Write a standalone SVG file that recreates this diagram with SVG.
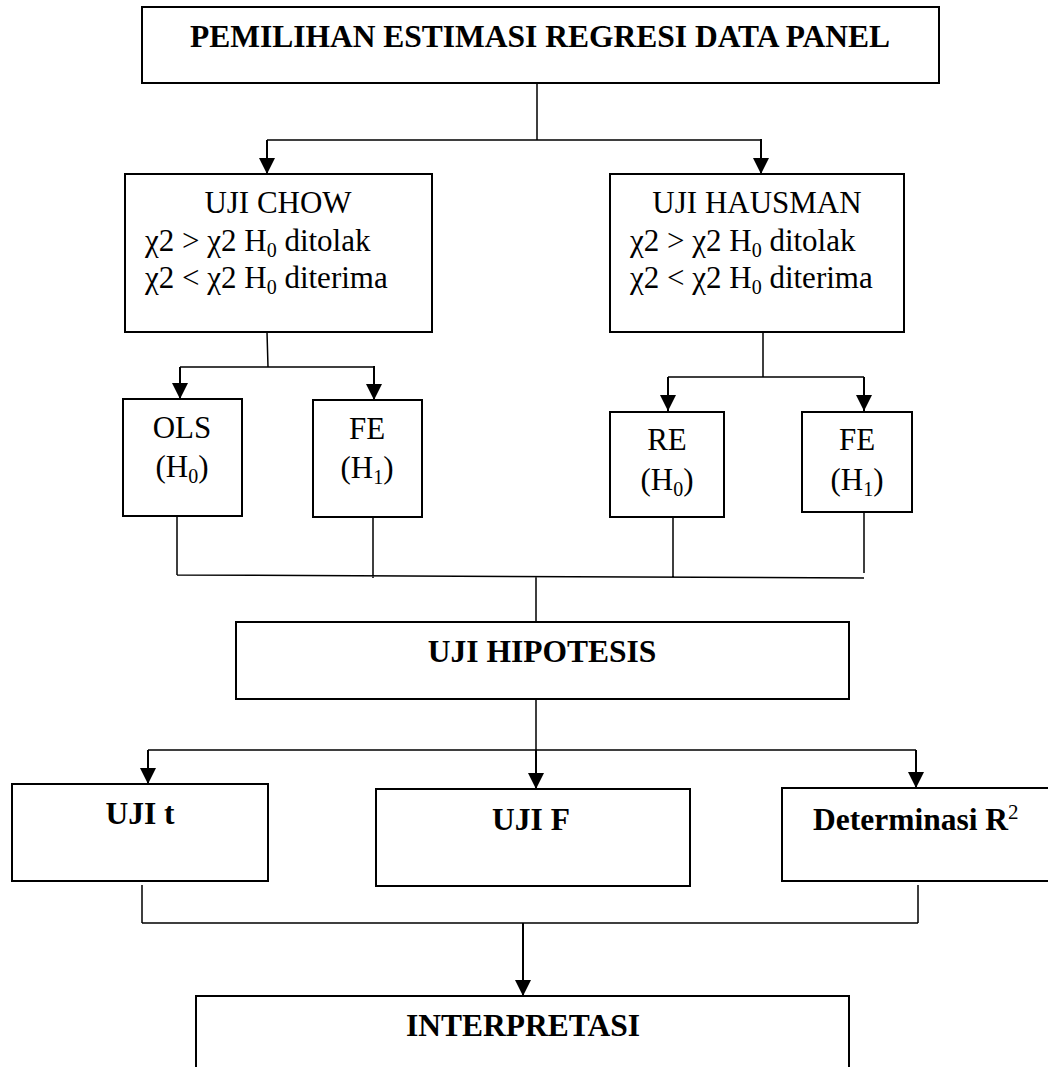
<svg xmlns="http://www.w3.org/2000/svg" width="1048" height="1067" viewBox="0 0 1048 1067">
<defs>
<marker id="ah" markerUnits="userSpaceOnUse" markerWidth="16" markerHeight="16" refX="16" refY="8" orient="auto" viewBox="0 0 16 16">
<path d="M0,0 L16,8 L0,16 z" fill="#000"/>
</marker>
<style>
.box{fill:#fff;stroke:#000;stroke-width:2}
.t{font-family:"Liberation Serif","Times New Roman",serif;font-size:31px;fill:#000}
.b{font-family:"Liberation Serif","Times New Roman",serif;font-size:31.5px;font-weight:bold;fill:#000}
.c{text-anchor:middle}
.ln{fill:none;stroke:#000;stroke-width:1.5}
.ar{fill:none;stroke:#000;stroke-width:2;marker-end:url(#ah)}
</style>
</defs>
<rect width="1048" height="1067" fill="#fff"/>
<g id="connectors">
<path class="ln" d="M537,83 V140 M267,140 H761"/>
<path class="ar" d="M267,140 V174"/>
<path class="ar" d="M761,139 V174"/>
<path class="ln" d="M267,332 L268,367 M180,367 H374"/>
<path class="ar" d="M180,367 V399"/>
<path class="ar" d="M374,366 V400"/>
<path class="ln" d="M763,332 V377 M668,377 H864"/>
<path class="ar" d="M668,377 V411"/>
<path class="ar" d="M864,377 V411"/>
<path class="ln" d="M177,513 V575 M373,517 V578 M673,517 V577 M864,512 V573 M177,575 L864,578 M536,576 V622"/>
<path class="ln" d="M536,699 V750 M148,750 H916"/>
<path class="ar" d="M148,750 V784"/>
<path class="ar" d="M536,750 V789"/>
<path class="ar" d="M916,750 V788"/>
<path class="ln" d="M142,885 V923 M918,885 V923 M142,923 H918"/>
<path class="ar" d="M523,923 V996"/>
</g>
<g id="n-title">
<rect class="box" x="142" y="7" width="797" height="76"/>
<text class="b c" x="540" y="47" font-size="32.3">PEMILIHAN ESTIMASI REGRESI DATA PANEL</text>
</g>
<g id="n-chow">
<rect class="box" x="125" y="174" width="307" height="158"/>
<text class="t c" x="278" y="213">UJI CHOW</text>
<text class="t" x="145" y="251">χ2 &gt; χ2 H<tspan font-size="20" dy="6">0</tspan><tspan dy="-6"> ditolak</tspan></text>
<text class="t" x="145" y="288">χ2 &lt; χ2 H<tspan font-size="20" dy="6">0</tspan><tspan dy="-6"> diterima</tspan></text>
</g>
<g id="n-hausman">
<rect class="box" x="610" y="174" width="294" height="158"/>
<text class="t c" x="757" y="213">UJI HAUSMAN</text>
<text class="t" x="630" y="251">χ2 &gt; χ2 H<tspan font-size="20" dy="6">0</tspan><tspan dy="-6"> ditolak</tspan></text>
<text class="t" x="630" y="288">χ2 &lt; χ2 H<tspan font-size="20" dy="6">0</tspan><tspan dy="-6"> diterima</tspan></text>
</g>
<g id="n-ols">
<rect class="box" x="123" y="399" width="119" height="117"/>
<text class="t c" x="182" y="438">OLS</text>
<text class="t c" x="182" y="477">(H<tspan font-size="20" dy="6">0</tspan><tspan dy="-6">)</tspan></text>
</g>
<g id="n-fe1">
<rect class="box" x="313" y="400" width="109" height="117"/>
<text class="t c" x="367" y="439">FE</text>
<text class="t c" x="367" y="478">(H<tspan font-size="20" dy="6">1</tspan><tspan dy="-6">)</tspan></text>
</g>
<g id="n-re">
<rect class="box" x="610" y="412" width="114" height="105"/>
<text class="t c" x="667" y="450">RE</text>
<text class="t c" x="667" y="490">(H<tspan font-size="20" dy="6">0</tspan><tspan dy="-6">)</tspan></text>
</g>
<g id="n-fe2">
<rect class="box" x="802" y="412" width="110" height="100"/>
<text class="t c" x="857" y="450">FE</text>
<text class="t c" x="857" y="490">(H<tspan font-size="20" dy="6">1</tspan><tspan dy="-6">)</tspan></text>
</g>
<g id="n-hipotesis">
<rect class="box" x="236" y="622" width="613" height="77"/>
<text class="b c" x="542" y="662">UJI HIPOTESIS</text>
</g>
<g id="n-ujit">
<rect class="box" x="12" y="784" width="256" height="97"/>
<text class="b c" x="140" y="824">UJI t</text>
</g>
<g id="n-ujif">
<rect class="box" x="376" y="789" width="314" height="97"/>
<text class="b c" x="531" y="830">UJI F</text>
</g>
<g id="n-r2">
<rect class="box" x="782" y="788" width="280" height="93"/>
<text class="b" x="813" y="830">Determinasi R<tspan font-size="21" font-weight="normal" dy="-11">2</tspan></text>
</g>
<g id="n-interpretasi">
<rect class="box" x="196" y="996" width="653" height="90"/>
<text class="b c" x="523" y="1036">INTERPRETASI</text>
</g>
</svg>
